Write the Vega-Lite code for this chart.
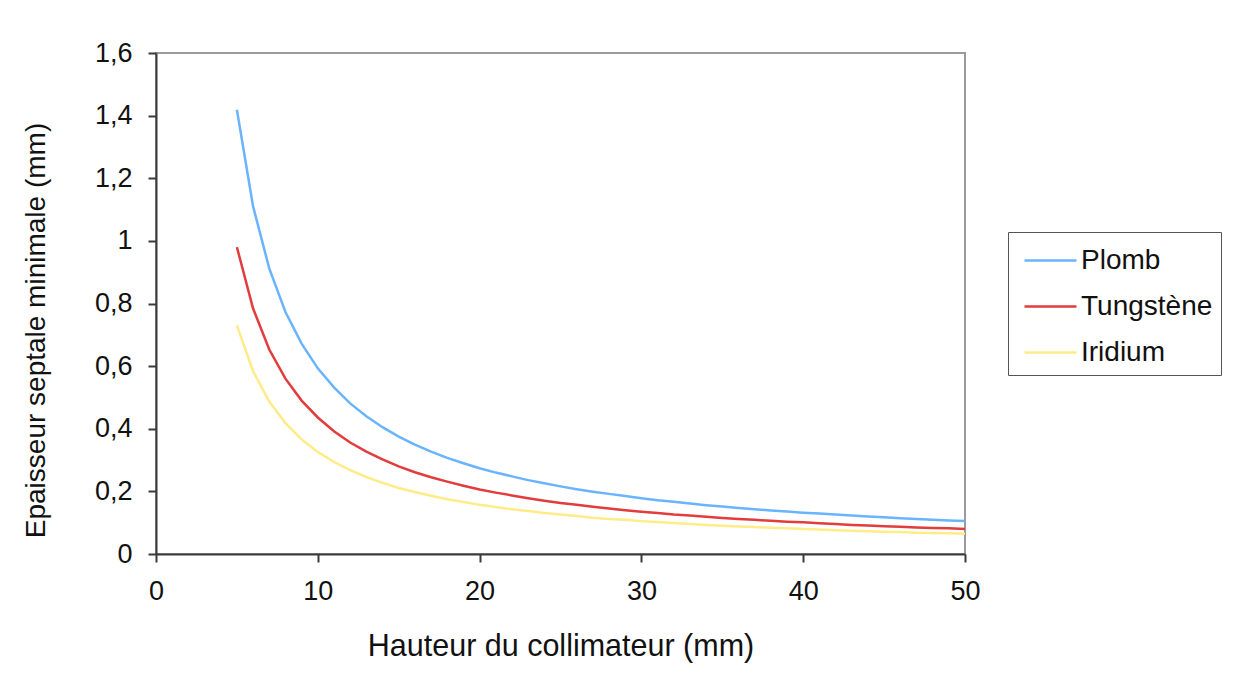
{
  "$schema": "https://vega.github.io/schema/vega-lite/v6.json",
  "width": 809,
  "height": 501,
  "autosize": "none",
  "padding": {"left": 156, "top": 53, "right": 274, "bottom": 137},
  "background": "white",
  "config": {
    "font": "Liberation Sans",
    "view": {"stroke": "#9a9a9a", "strokeWidth": 2},
    "axis": {
      "grid": false,
      "domainColor": "#3a3a3a",
      "domainWidth": 2,
      "tickColor": "#3a3a3a",
      "tickWidth": 2,
      "tickSize": 8,
      "labelFlush": false,
      "labelFont": "Liberation Sans",
      "labelFontSize": 27,
      "labelColor": "#111",
      "titleFont": "Liberation Sans",
      "titleFontWeight": "normal",
      "titleColor": "#111"
    }
  },
  "data": {
    "values": [
      {"h": 5, "Plomb": 1.419, "Tungstène": 0.980, "Iridium": 0.730},
      {"h": 6, "Plomb": 1.110, "Tungstène": 0.784, "Iridium": 0.584},
      {"h": 7, "Plomb": 0.912, "Tungstène": 0.653, "Iridium": 0.487},
      {"h": 8, "Plomb": 0.773, "Tungstène": 0.560, "Iridium": 0.418},
      {"h": 9, "Plomb": 0.672, "Tungstène": 0.490, "Iridium": 0.366},
      {"h": 10, "Plomb": 0.593, "Tungstène": 0.436, "Iridium": 0.326},
      {"h": 11, "Plomb": 0.532, "Tungstène": 0.392, "Iridium": 0.294},
      {"h": 12, "Plomb": 0.481, "Tungstène": 0.356, "Iridium": 0.268},
      {"h": 13, "Plomb": 0.440, "Tungstène": 0.327, "Iridium": 0.246},
      {"h": 14, "Plomb": 0.405, "Tungstène": 0.302, "Iridium": 0.227},
      {"h": 15, "Plomb": 0.375, "Tungstène": 0.280, "Iridium": 0.211},
      {"h": 16, "Plomb": 0.349, "Tungstène": 0.261, "Iridium": 0.198},
      {"h": 17, "Plomb": 0.327, "Tungstène": 0.245, "Iridium": 0.186},
      {"h": 18, "Plomb": 0.307, "Tungstène": 0.231, "Iridium": 0.175},
      {"h": 19, "Plomb": 0.290, "Tungstène": 0.218, "Iridium": 0.166},
      {"h": 20, "Plomb": 0.274, "Tungstène": 0.206, "Iridium": 0.157},
      {"h": 21, "Plomb": 0.260, "Tungstène": 0.196, "Iridium": 0.150},
      {"h": 22, "Plomb": 0.248, "Tungstène": 0.187, "Iridium": 0.143},
      {"h": 23, "Plomb": 0.236, "Tungstène": 0.178, "Iridium": 0.137},
      {"h": 24, "Plomb": 0.226, "Tungstène": 0.170, "Iridium": 0.131},
      {"h": 25, "Plomb": 0.216, "Tungstène": 0.163, "Iridium": 0.126},
      {"h": 26, "Plomb": 0.207, "Tungstène": 0.157, "Iridium": 0.121},
      {"h": 27, "Plomb": 0.199, "Tungstène": 0.151, "Iridium": 0.116},
      {"h": 28, "Plomb": 0.192, "Tungstène": 0.145, "Iridium": 0.112},
      {"h": 29, "Plomb": 0.185, "Tungstène": 0.140, "Iridium": 0.109},
      {"h": 30, "Plomb": 0.178, "Tungstène": 0.135, "Iridium": 0.105},
      {"h": 31, "Plomb": 0.172, "Tungstène": 0.131, "Iridium": 0.102},
      {"h": 32, "Plomb": 0.167, "Tungstène": 0.126, "Iridium": 0.099},
      {"h": 33, "Plomb": 0.161, "Tungstène": 0.123, "Iridium": 0.096},
      {"h": 34, "Plomb": 0.156, "Tungstène": 0.119, "Iridium": 0.093},
      {"h": 35, "Plomb": 0.152, "Tungstène": 0.115, "Iridium": 0.090},
      {"h": 36, "Plomb": 0.147, "Tungstène": 0.112, "Iridium": 0.088},
      {"h": 37, "Plomb": 0.143, "Tungstène": 0.109, "Iridium": 0.086},
      {"h": 38, "Plomb": 0.139, "Tungstène": 0.106, "Iridium": 0.084},
      {"h": 39, "Plomb": 0.136, "Tungstène": 0.103, "Iridium": 0.082},
      {"h": 40, "Plomb": 0.132, "Tungstène": 0.101, "Iridium": 0.080},
      {"h": 41, "Plomb": 0.129, "Tungstène": 0.098, "Iridium": 0.078},
      {"h": 42, "Plomb": 0.126, "Tungstène": 0.096, "Iridium": 0.076},
      {"h": 43, "Plomb": 0.123, "Tungstène": 0.093, "Iridium": 0.074},
      {"h": 44, "Plomb": 0.120, "Tungstène": 0.091, "Iridium": 0.073},
      {"h": 45, "Plomb": 0.117, "Tungstène": 0.089, "Iridium": 0.071},
      {"h": 46, "Plomb": 0.114, "Tungstène": 0.087, "Iridium": 0.070},
      {"h": 47, "Plomb": 0.112, "Tungstène": 0.085, "Iridium": 0.068},
      {"h": 48, "Plomb": 0.109, "Tungstène": 0.083, "Iridium": 0.067},
      {"h": 49, "Plomb": 0.107, "Tungstène": 0.082, "Iridium": 0.066},
      {"h": 50, "Plomb": 0.105, "Tungstène": 0.080, "Iridium": 0.065}
    ]
  },
  "transform": [
    {"fold": ["Plomb", "Tungstène", "Iridium"], "as": ["metal", "e"]}
  ],
  "mark": {"type": "line", "strokeWidth": 2.5},
  "encoding": {
    "x": {
      "field": "h",
      "type": "quantitative",
      "scale": {"domain": [0, 50], "nice": false},
      "axis": {
        "values": [0, 10, 20, 30, 40, 50],
        "title": "Hauteur du collimateur (mm)",
        "titleFontSize": 30.5,
        "labelPadding": 16,
        "titlePadding": 27
      }
    },
    "y": {
      "field": "e",
      "type": "quantitative",
      "scale": {"domain": [0, 1.6], "nice": false},
      "axis": {
        "values": [0, 0.2, 0.4, 0.6, 0.8, 1, 1.2, 1.4, 1.6],
        "labelExpr": "replace(format(datum.value, '~g'), '.', ',')",
        "title": "Epaisseur septale minimale (mm)",
        "titleFontSize": 28,
        "titleY": 277,
        "labelPadding": 16,
        "titlePadding": 44
      }
    },
    "color": {
      "field": "metal",
      "type": "nominal",
      "sort": ["Plomb", "Tungstène", "Iridium"],
      "scale": {
        "domain": ["Plomb", "Tungstène", "Iridium"],
        "range": ["#6ab4ff", "#e23c3c", "#ffec88"]
      },
      "legend": {
        "title": null,
        "orient": "none",
        "legendX": 852,
        "legendY": 179,
        "strokeColor": "#555",
        "padding": 8,
        "symbolType": "M-0.632,0H2.105",
        "symbolSize": 1444,
        "symbolStrokeWidth": 2.5,
        "labelFontSize": 28,
        "labelFont": "Liberation Sans",
        "labelColor": "#111",
        "labelOffset": 24,
        "rowPadding": 11
      }
    }
  }
}
